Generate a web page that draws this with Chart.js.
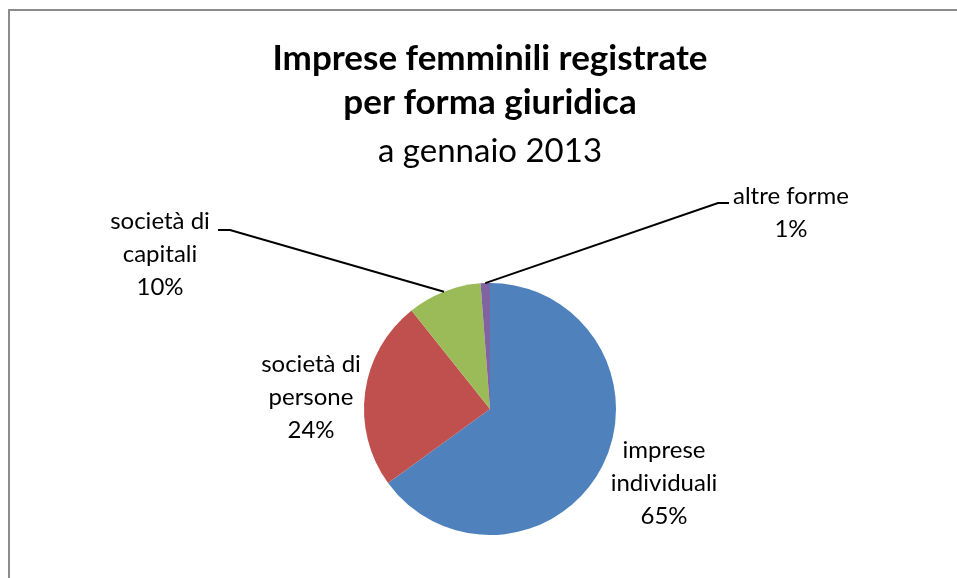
<!DOCTYPE html>
<html>
<head>
<meta charset="utf-8">
<script src="https://cdn.jsdelivr.net/npm/chart.js@4"></script>
<style>
	html, body { margin: 0; padding: 0; background: #fff; }
	#wrap { width: 957px; height: 578px; }
</style>
</head>
<body>
<div id="wrap"><canvas id="pieChart" width="957" height="578"></canvas></div>
<script>
// data
var categories = [['imprese', 'individuali'], ['società di', 'persone'], ['società di', 'capitali'], ['altre forme']];
var shares = [65.0, 24.3, 9.5, 1.2];
var colors = ['#4F81BD', '#C0504D', '#9BBB59', '#8064A2'];
var titleLines = ['Imprese femminili registrate', 'per forma giuridica'];
var subtitleText = 'a gennaio 2013';

// label placement, offsets from the pie centre (first text baseline)
var labelLayout = [
	{dx: 174, dy: 49},
	{dx: -179, dy: -37},
	{dx: -330, dy: -180, elbow: [-260, -179], tail: [-272, -179]},
	{dx: 301, dy: -205, elbow: [228, -206], tail: [239, -206]}
];
var FONT = 'Lato';

var framePlugin = {
	id: 'frame',
	beforeDraw: function(chart) {
		var ctx = chart.ctx;
		ctx.save();
		ctx.strokeStyle = '#8c8c8c';
		ctx.lineWidth = 2;
		ctx.beginPath();
		ctx.moveTo(9, chart.height);
		ctx.lineTo(9, 10);
		ctx.lineTo(chart.width, 10);
		ctx.stroke();
		ctx.restore();
	}
};

var labelPlugin = {
	id: 'pieLabels',
	afterDraw: function(chart) {
		var ctx = chart.ctx;
		var meta = chart.getDatasetMeta(0);
		var total = shares.reduce(function(a, b) { return a + b; }, 0);
		ctx.save();
		ctx.font = '24px ' + FONT;
		ctx.fillStyle = '#000';
		ctx.textAlign = 'center';
		ctx.textBaseline = 'alphabetic';
		for (var i = 0; i < meta.data.length; i++) {
			var arc = meta.data[i];
			var lay = labelLayout[i];
			var cx = arc.x, cy = arc.y;
			var lines = categories[i].concat([Math.round(shares[i] / total * 100) + '%']);
			for (var j = 0; j < lines.length; j++) {
				ctx.fillText(lines[j], cx + lay.dx, cy + lay.dy + j * 33);
			}
			if (lay.elbow) {
				var mid = (arc.startAngle + arc.endAngle) / 2;
				ctx.strokeStyle = '#000';
				ctx.lineWidth = 2;
				ctx.beginPath();
				ctx.moveTo(cx + Math.cos(mid) * arc.outerRadius, cy + Math.sin(mid) * arc.outerRadius);
				ctx.lineTo(cx + lay.elbow[0], cy + lay.elbow[1]);
				ctx.lineTo(cx + lay.tail[0], cy + lay.tail[1]);
				ctx.stroke();
			}
		}
		ctx.restore();
	}
};

window.addEventListener('load', function() {
	var ctx = document.getElementById('pieChart');
	new Chart(ctx, {
		type: 'pie',
		data: {
			labels: categories.map(function(c) { return c.join(' '); }),
			datasets: [{
				data: shares,
				backgroundColor: colors,
				borderWidth: 0
			}]
		},
		options: {
			responsive: false,
			animation: false,
			devicePixelRatio: 1,
			layout: { padding: { left: 236, right: 213, top: 0, bottom: 43 } },
			plugins: {
				legend: { display: false },
				tooltip: { enabled: false },
				title: {
					display: true,
					text: titleLines,
					color: '#000',
					font: { family: FONT, size: 35, weight: 'bold', lineHeight: 44 / 35 },
					padding: { top: 37, bottom: 2 }
				},
				subtitle: {
					display: true,
					text: subtitleText,
					color: '#000',
					font: { family: FONT, size: 33, weight: 'normal', lineHeight: 44 / 33 },
					padding: { top: 2, bottom: 110 }
				}
			}
		},
		plugins: [framePlugin, labelPlugin]
	});
});
</script>
</body>
</html>
